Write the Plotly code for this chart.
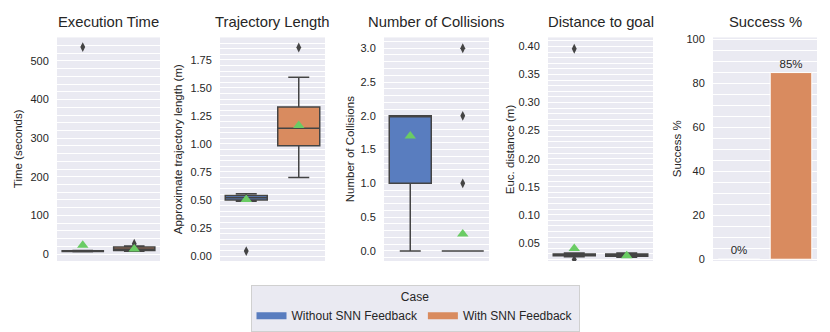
import plotly.graph_objects as go

W, H = 830, 332

CASES = ['Without SNN Feedback', 'With SNN Feedback']
COLORS = ['#597dbf', '#d98b5f']
LINE = '#444444'
MEAN_C = '#6acc64'
BG = '#eaeaf2'

TITLES = ['Execution Time', 'Trajectory Length', 'Number of Collisions',
          'Distance to goal', 'Success %']
YTITLES = ['Time (seconds)', 'Approximate trajectory length (m)',
           'Number of Collisions', 'Euc. distance (m)', 'Success %']

# box stats per panel: [without, with]
time_q1 = [6.5, 9]
time_med = [7.5, 13]
time_q3 = [8.5, 18]
time_lo = [6, 7]
time_hi = [9, 21]
time_mean = [23, 13]
time_out = [[536], [27]]

len_q1 = [0.50, 0.985]
len_med = [0.52, 1.14]
len_q3 = [0.54, 1.33]
len_lo = [0.49, 0.70]
len_hi = [0.555, 1.595]
len_mean = [0.505, 1.165]
len_out = [[0.045], [1.86]]

col_q1 = [1, 0]
col_med = [2, 0]
col_q3 = [2, 0]
col_lo = [0, 0]
col_hi = [2, 0]
col_mean = [1.7, 0.25]
col_out = [[], [1, 2, 3]]

dist_q1 = [0.027, 0.026]
dist_med = [0.029, 0.029]
dist_q3 = [0.030, 0.030]
dist_lo = [0.025, 0.024]
dist_hi = [0.032, 0.032]
dist_mean = [0.040, 0.027]
dist_out = [[0.396, 0.020], []]

success = [0, 85]

panels = [
    (time_q1, time_med, time_q3, time_lo, time_hi, time_mean, time_out),
    (len_q1, len_med, len_q3, len_lo, len_hi, len_mean, len_out),
    (col_q1, col_med, col_q3, col_lo, col_hi, col_mean, col_out),
    (dist_q1, dist_med, dist_q3, dist_lo, dist_hi, dist_mean, dist_out),
]

# axis setup: (range, dtick, minor dtick, tickformat)
yset = [
    ([-18, 561], 100, 20, None),
    ([-0.044, 1.95], 0.25, 0.05, '.2f'),
    ([-0.15, 3.16], 0.5, 0.1, '.1f'),
    ([0.0175, 0.4162], 0.05, 0.01, '.2f'),
    ([-0.8, 101], 20, 5, None),
]

# pixel positions of the plot areas
xpix = [(57, 160), (220, 325), (384, 489), (548, 653), (713, 817)]
ytop, ybot = 38, 265

fig = go.Figure()

for p, (q1, med, q3, lo, hi, mean, outs) in enumerate(panels):
    xa = 'x' if p == 0 else f'x{p + 1}'
    ya = 'y' if p == 0 else f'y{p + 1}'
    for i in range(2):
        fig.add_trace(go.Box(
            x=[i], q1=[q1[i]], median=[med[i]], q3=[q3[i]],
            lowerfence=[lo[i]], upperfence=[hi[i]],
            width=0.8, whiskerwidth=0.5,
            fillcolor=COLORS[i], line=dict(color=LINE, width=1.5),
            boxpoints=False, showlegend=False, hoverinfo='skip',
            xaxis=xa, yaxis=ya,
        ))
        if outs[i]:
            fig.add_trace(go.Scatter(
                x=[i] * len(outs[i]), y=outs[i], mode='markers',
                marker=dict(symbol='diamond-tall', size=7, color=LINE),
                showlegend=False, xaxis=xa, yaxis=ya,
            ))
        fig.add_trace(go.Scatter(
            x=[i], y=[mean[i]], mode='markers',
            marker=dict(symbol='triangle-up', size=10, color=MEAN_C),
            showlegend=False, xaxis=xa, yaxis=ya,
        ))

fig.add_trace(go.Bar(
    x=[0, 1], y=success, width=0.8, marker=dict(color=COLORS, line=dict(color='white', width=1)),
    text=[f'{v}%' for v in success], textposition='outside',
    textfont=dict(size=11.5, color='#262626'), cliponaxis=False,
    showlegend=False, xaxis='x5', yaxis='y5',
))

# legend-only traces
for i in range(2):
    fig.add_trace(go.Scatter(
        x=[None], y=[None], mode='lines', name=CASES[i],
        line=dict(color=COLORS[i], width=7), xaxis='x5', yaxis='y5',
    ))

yd = [(H - ybot) / H, (H - ytop) / H]
layout = dict(
    template='none',
    width=W, height=H,
    margin=dict(l=0, r=0, t=0, b=0),
    paper_bgcolor='white', plot_bgcolor=BG,
    font=dict(family='Liberation Sans, Arial, sans-serif', size=10, color='#262626'),
    legend=dict(
        orientation='h', x=0.5, xanchor='center', y=(H - 289) / H, yanchor='top',
        title=dict(text='Case', side='top center', font=dict(size=12)),
        bgcolor=BG, bordercolor='#d0d0d0', borderwidth=1,
        font=dict(size=12), itemwidth=30, tracegroupgap=0,
    ),
)

annotations = []
for p in range(5):
    sfx = '' if p == 0 else str(p + 1)
    x0, x1 = xpix[p]
    rng, dt, mdt, fmt = yset[p]
    layout['xaxis' + sfx] = dict(
        domain=[x0 / W, x1 / W], range=[-0.5, 1.5], showticklabels=False,
        showgrid=False, zeroline=False, showline=False, ticks='',
        anchor='y' + sfx, fixedrange=True,
    )
    ya = dict(
        domain=yd, range=rng, dtick=dt, tick0=0, anchor='x' + sfx,
        showgrid=True, gridcolor='white', gridwidth=1.3, zeroline=False, showline=False,
        ticks='outside', ticklen=5, tickcolor='rgba(0,0,0,0)',
        tickfont=dict(size=11, color='#262626'),
        minor=dict(dtick=mdt, tick0=0, showgrid=True, gridcolor='white', gridwidth=0.6,
                   ticks=''),
    )
    if fmt:
        ya['tickformat'] = fmt
    layout['yaxis' + sfx] = ya
    annotations.append(dict(
        text=TITLES[p], x=(x0 + x1) / 2 / W, y=(H - 22) / H, xref='paper', yref='paper',
        xanchor='center', yanchor='middle',
        showarrow=False, font=dict(size=14.8, color='#262626'),
    ))

ytitle_x = [18, 178, 350, 510, 677]
for p in range(5):
    annotations.append(dict(
        text=YTITLES[p], x=ytitle_x[p] / W, y=sum(yd) / 2, xref='paper', yref='paper',
        xanchor='center', yanchor='middle',
        textangle=-90, showarrow=False, font=dict(size=11.5, color='#262626'),
    ))
layout['annotations'] = annotations

fig.update_layout(**layout)
fig.write_html('out.html', config={'displayModeBar': False},
               post_script="document.body.style.margin='0';")
